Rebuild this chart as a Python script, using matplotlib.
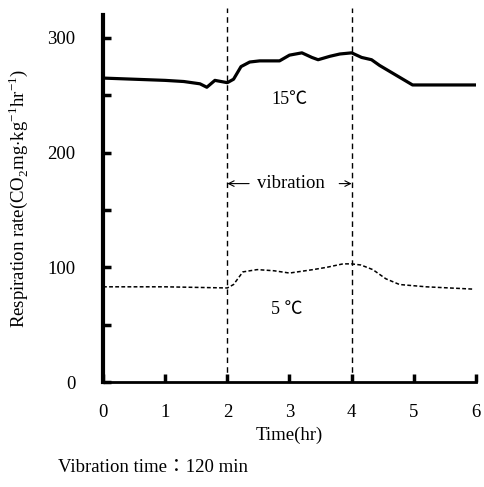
import matplotlib.pyplot as plt

plt.rcParams['font.family'] = ['Liberation Serif', 'Noto Sans CJK JP']
plt.rcParams['mathtext.fontset'] = 'custom'
plt.rcParams['mathtext.rm'] = 'Liberation Serif'

# 15 C curve
t15 = [0.0, 0.5, 1.0, 1.3, 1.56, 1.67, 1.8, 1.9, 2.0, 2.1, 2.22, 2.36, 2.52, 2.84, 3.0, 3.2,
       3.36, 3.46, 3.65, 3.81, 4.0, 4.16, 4.32, 4.45, 4.98, 5.5, 6.0]
r15 = [265, 264, 263, 262, 260, 257, 263, 262, 261, 264, 275, 279, 280, 280, 285, 287,
       283, 281, 284, 286, 287, 283, 281, 276, 259, 259, 259]

# 5 C curve
t5 = [0.0, 1.0, 2.0, 2.1, 2.25, 2.48, 2.75, 3.0, 3.38, 3.6, 3.86, 4.0, 4.15, 4.34, 4.55, 4.77, 5.2, 5.95]
r5 = [83, 83, 82, 85, 96, 98, 97, 95, 98, 100, 103, 103, 102, 98, 90, 85, 83, 81]

vib_start, vib_end = 2, 4
xticks = [0, 1, 2, 3, 4, 5, 6]
yticks = [0, 100, 200, 300]

fig = plt.figure(figsize=(4.85, 4.87), dpi=100)
ax = fig.add_axes([0.2124, 0.2156, 0.769, 0.7536])

ax.plot(t15, r15, color='black', lw=2.3, solid_joinstyle='round')
ax.plot(t5, r5, color='black', lw=1.1, ls=(0, (2.5, 1.5)))

for xv in [vib_start, vib_end]:
    ax.plot([xv, xv], [0, 326], color='black', lw=1.0, ls=(0, (4, 3)), clip_on=False)

ax.set_xlim(0, 6)
ax.set_ylim(0, 320)
ax.set_xticks(xticks)
ax.set_yticks(yticks)
ax.set_yticks([50, 150, 250], minor=True)
ax.tick_params(axis='both', which='both', direction='in', length=6, width=2.5, labelsize=13.5)
ax.tick_params(axis='y', pad=20)
ax.tick_params(axis='x', pad=16)
for s in ['top', 'right']:
    ax.spines[s].set_visible(False)
ax.spines['left'].set_linewidth(3)
ax.spines['bottom'].set_linewidth(2)

ax.text(3.0, 246, '15℃', fontsize=13, ha='center', va='center')
ax.text(2.95, 63, '5 ℃', fontsize=13, ha='center', va='center')
ax.text(3.03, 173, 'vibration', fontsize=13.5, ha='center', va='center')
ax.annotate('', xy=(2.0, 173), xytext=(2.35, 173),
            arrowprops=dict(arrowstyle='->', lw=0.8, color='black', shrinkA=0, shrinkB=0))
ax.annotate('', xy=(4.0, 173), xytext=(3.8, 173),
            arrowprops=dict(arrowstyle='->', lw=0.8, color='black', shrinkA=0, shrinkB=0))

ax.set_xlabel('Time(hr)', fontsize=13.5, labelpad=4)
ax.set_ylabel('Respiration rate(CO$_2$mg$\\cdot$kg$^{-1}$hr$^{-1}$)', fontsize=13.5, labelpad=12)

fig.text(0.12, 0.04, 'Vibration time：120 min', fontsize=13.5, ha='left', va='center')

fig.savefig('out.png', dpi=100)
